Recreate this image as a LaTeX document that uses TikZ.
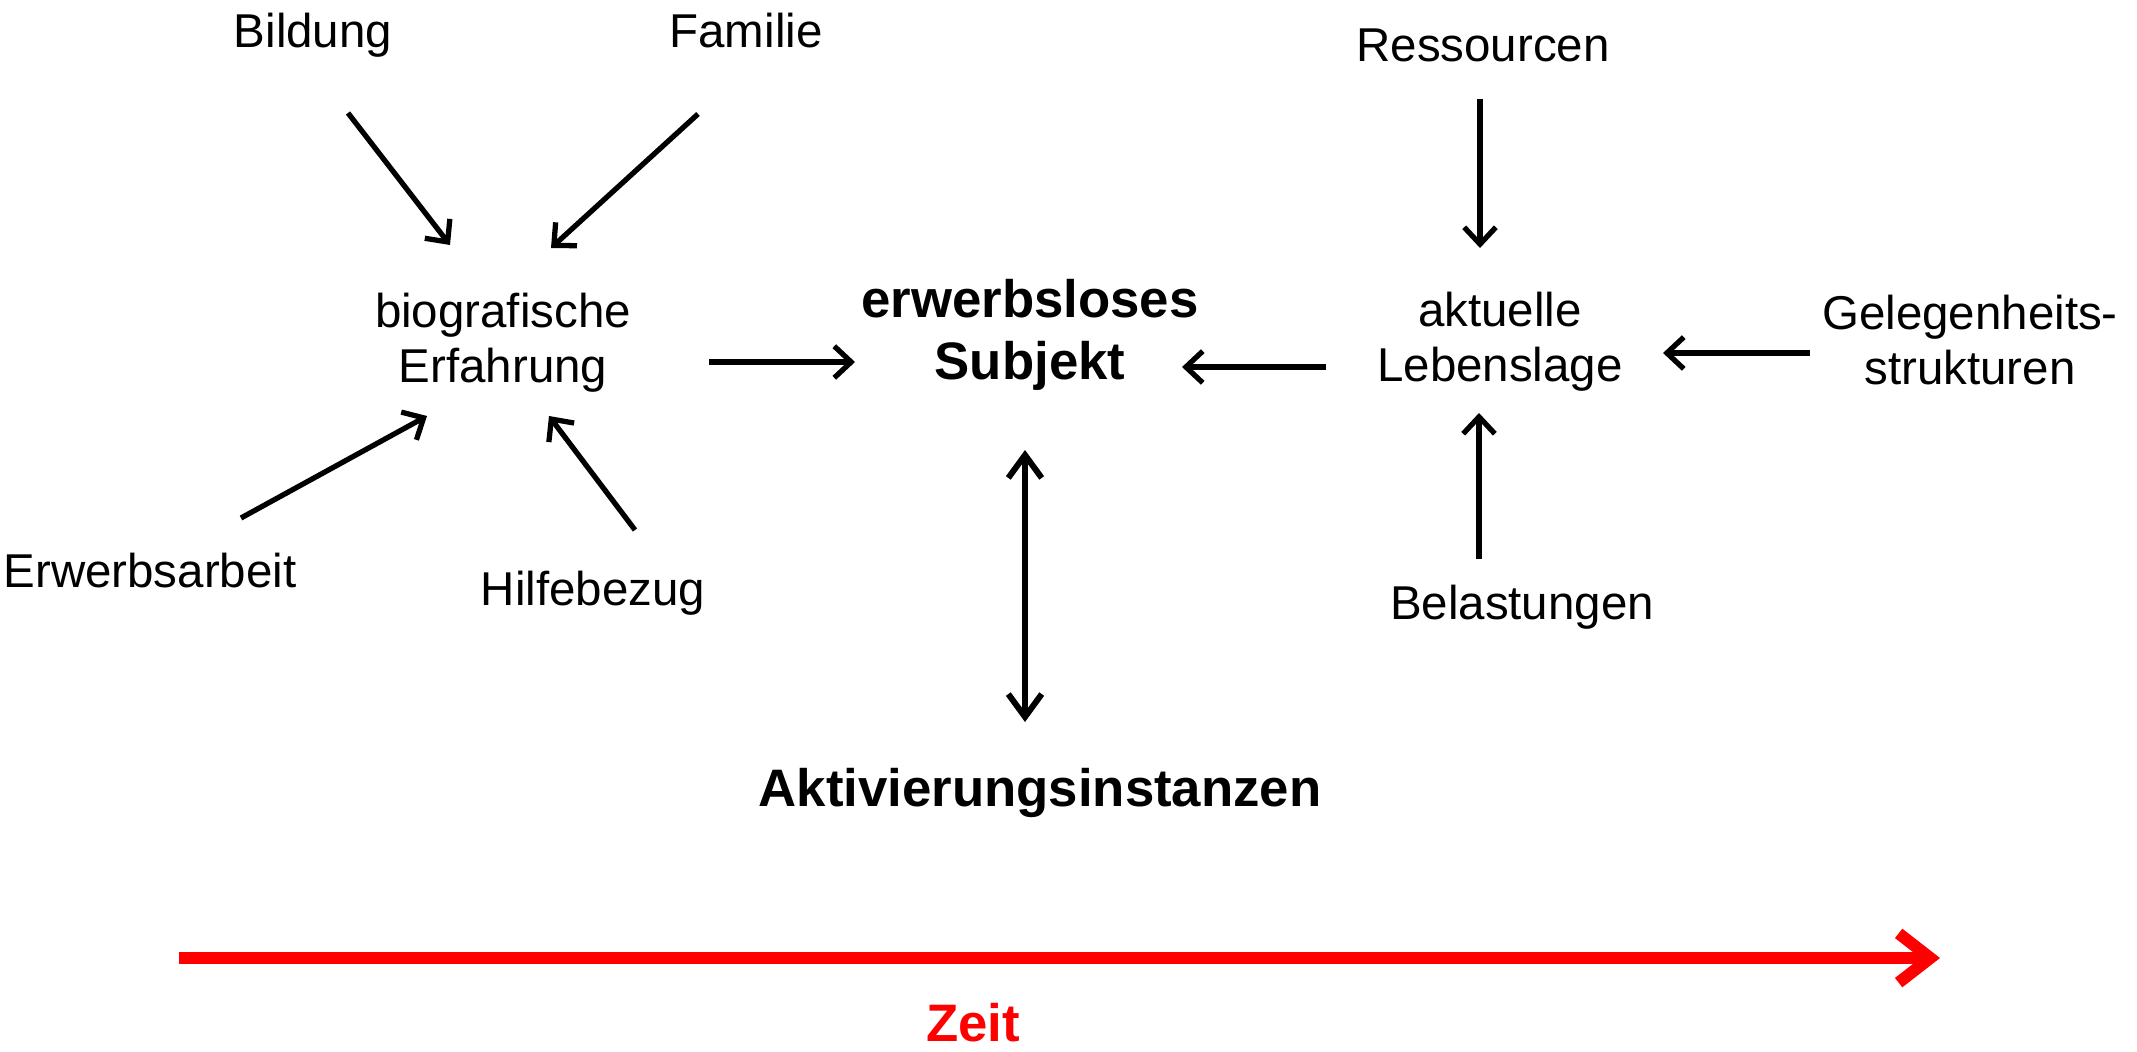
\documentclass[tikz,border=0pt]{standalone}
\usepackage{fontspec}
\setmainfont{Liberation Sans}
\usetikzlibrary{arrows.meta}
\begin{document}
\begin{tikzpicture}[x=0.01cm,y=-0.01cm,
  lbl/.style={inner sep=0pt, font=\fontsize{13.5pt}{15.6pt}\selectfont, align=center, text depth=0pt, anchor=south},
  blbl/.style={inner sep=0pt, font=\fontsize{15pt}{17.6pt}\selectfont\bfseries, align=center, text depth=0pt, anchor=south},
  conn/.style={line width=1.5pt, -{Straight Barb[length=4.8pt,width=9pt]}},
  dconn/.style={line width=1.7pt, {Straight Barb[length=6.5pt,width=9.5pt]}-{Straight Barb[length=6.5pt,width=9.5pt]}},
  timearrow/.style={line width=3.4pt, red, -{Straight Barb[length=9pt,width=14pt]}}]
\useasboundingbox (0,0) rectangle (2137,1052);

% text nodes
\node[lbl] (bild) at (313,48) {Bildung};
\node[lbl] (fam) at (746,48) {Familie};
\node[lbl] (bio) at (503,383) {biografische\\Erfahrung};
\node[blbl] (subj) at (1030,380) {erwerbsloses\\Subjekt};
\node[lbl] (akt) at (1500,382) {aktuelle\\Lebenslage};
\node[lbl] (gel) at (1970,385) {Gelegenheits-\\strukturen};
\node[lbl] (res) at (1483,62) {Ressourcen};
\node[lbl] (bel) at (1522,620) {Belastungen};
\node[lbl] (erw) at (150,588) {Erwerbsarbeit};
\node[lbl] (hil) at (593,606) {Hilfebezug};
\node[blbl] (akti) at (1040,807) {Aktivierungsinstanzen};
\node[blbl, text=red] (zeit) at (973,1042) {Zeit};

% connector end points
\coordinate (bildA) at (348,113);  \coordinate (bildB) at (450,245);
\coordinate (famA) at (698,114);   \coordinate (famB) at (551,248);
\coordinate (erwA) at (241,518);   \coordinate (erwB) at (427,416);
\coordinate (hilA) at (635,530);   \coordinate (hilB) at (549,416);
\coordinate (bioA) at (709,362);   \coordinate (bioB) at (855,362);
\coordinate (aktA) at (1326,367);  \coordinate (aktB) at (1182,367);
\coordinate (gelA) at (1810,353);  \coordinate (gelB) at (1663,353);
\coordinate (resA) at (1480,99);   \coordinate (resB) at (1480,248);
\coordinate (belA) at (1479,559);  \coordinate (belB) at (1479,413);
\coordinate (subjA) at (1025,450); \coordinate (subjB) at (1025,722);
\coordinate (timeA) at (179,958);  \coordinate (timeB) at (1940,958);

% connectors
\draw[conn] (bildA) -- (bildB);
\draw[conn] (famA) -- (famB);
\draw[conn] (erwA) -- (erwB);
\draw[conn] (hilA) -- (hilB);
\draw[conn] (bioA) -- (bioB);
\draw[conn] (aktA) -- (aktB);
\draw[conn] (gelA) -- (gelB);
\draw[conn] (resA) -- (resB);
\draw[conn] (belA) -- (belB);
\draw[dconn] (subjA) -- (subjB);
\draw[timearrow] (timeA) -- (timeB);
\end{tikzpicture}
\end{document}
